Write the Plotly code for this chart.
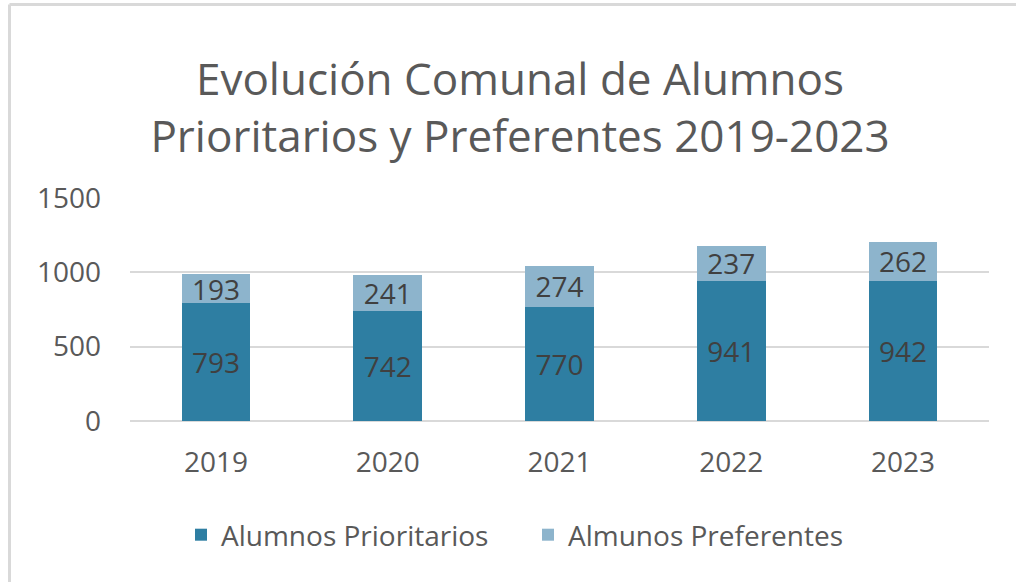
import plotly.graph_objects as go

years = ["2019", "2020", "2021", "2022", "2023"]
prioritarios = [793, 742, 770, 941, 942]
preferentes = [193, 241, 274, 237, 262]
y_ticks = [0, 500, 1000, 1500]

W, H = 1016, 582
FONT = "Open Sans"
TXT = "#595959"

fig = go.Figure()
fig.add_trace(go.Bar(
    x=years, y=prioritarios, name="Alumnos Prioritarios",
    marker=dict(color="#2E7EA2", line=dict(width=0)),
    text=prioritarios, textposition="inside", insidetextanchor="middle",
    textfont=dict(family=FONT, size=28, color="#404040"),
))
fig.add_trace(go.Bar(
    x=years, y=preferentes, name="Almunos Preferentes",
    marker=dict(color="#8DB4CC", line=dict(width=0)),
    text=preferentes, textposition="inside", insidetextanchor="middle",
    textfont=dict(family=FONT, size=28, color="#404040"),
))

l, r, t, b = 130, 27, 198, 161
pw = W - l - r
ph = H - t - b

def px_x(x):
    return (x - l) / pw

def px_y(y):
    return (H - b - y) / ph

fig.update_layout(
    width=W, height=H,
    barmode="stack", bargap=0.6,
    margin=dict(l=l, r=r, t=t, b=b, autoexpand=False),
    paper_bgcolor="white", plot_bgcolor="white",
    font=dict(family=FONT, color=TXT),
    uniformtext=dict(minsize=28, mode="show"),
    title=dict(
        text="Evolución Comunal de Alumnos<br>Prioritarios y Preferentes 2019-2023",
        x=520 / W, xanchor="center", xref="container",
        y=1 - 95 / H, yanchor="middle", yref="container",
        font=dict(family=FONT, size=44, color=TXT),
    ),
    xaxis=dict(
        showgrid=False, showline=False, ticks="",
        tickfont=dict(family=FONT, size=28, color=TXT),
        ticklabelstandoff=22,
    ),
    yaxis=dict(
        range=[0, 1500], tickvals=y_ticks,
        showgrid=True, gridcolor="#D9D9D9", gridwidth=2,
        zeroline=True, zerolinecolor="#D9D9D9", zerolinewidth=2,
        showline=False, ticks="",
        tickfont=dict(family=FONT, size=28, color=TXT),
        ticklabelstandoff=28,
    ),
    legend=dict(
        orientation="h", xref="container", x=528 / W, xanchor="center",
        yref="container", y=1 - 535 / H, yanchor="middle",
        font=dict(family=FONT, size=28, color=TXT),
        itemwidth=30, traceorder="normal",
        entrywidth=302, entrywidthmode="pixels",
    ),
    shapes=[
        dict(type="line", xref="paper", yref="paper",
             x0=px_x(9.5), x1=px_x(1030), y0=px_y(4.5), y1=px_y(4.5),
             line=dict(color="#D9D9D9", width=3)),
        dict(type="line", xref="paper", yref="paper",
             x0=px_x(9.5), x1=px_x(9.5), y0=px_y(4.5), y1=px_y(600),
             line=dict(color="#D9D9D9", width=3)),
    ],
)

fig.write_html("out.html", config={"displayModeBar": False},
               post_script="document.body.style.margin='0';")
